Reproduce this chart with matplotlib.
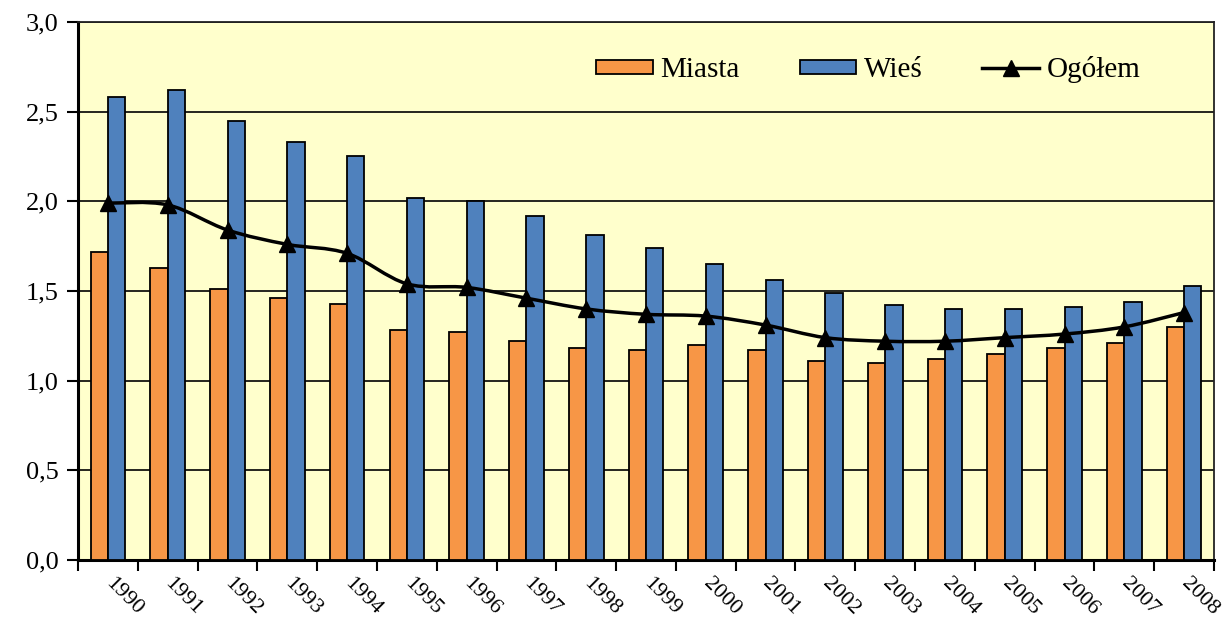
import numpy as np
import matplotlib.pyplot as plt
from matplotlib.path import Path
from matplotlib.patches import PathPatch
from matplotlib.lines import Line2D

plt.rcParams['font.family'] = ['Liberation Serif', 'DejaVu Serif']

# data
years = ['1990', '1991', '1992', '1993', '1994', '1995', '1996', '1997', '1998', '1999',
         '2000', '2001', '2002', '2003', '2004', '2005', '2006', '2007', '2008']
miasta = [1.72, 1.63, 1.51, 1.46, 1.43, 1.28, 1.27, 1.22, 1.18, 1.17,
          1.20, 1.17, 1.11, 1.10, 1.12, 1.15, 1.18, 1.21, 1.30]
wies = [2.58, 2.62, 2.45, 2.33, 2.25, 2.02, 2.00, 1.92, 1.81, 1.74,
        1.65, 1.56, 1.49, 1.42, 1.40, 1.40, 1.41, 1.44, 1.53]
ogolem = [1.99, 1.98, 1.84, 1.76, 1.71, 1.54, 1.52, 1.46, 1.40, 1.37,
          1.36, 1.31, 1.24, 1.22, 1.22, 1.24, 1.26, 1.30, 1.38]
yticks = [0.0, 0.5, 1.0, 1.5, 2.0, 2.5, 3.0]

fig = plt.figure(figsize=(12.31, 6.21), dpi=100)
ax = fig.add_axes([0.0634, 0.0982, 0.9228, 0.8664])
ax.set_facecolor('#FFFFCC')

x = np.arange(len(years))
w = 0.29
ax.bar(x - w / 2, miasta, w, color='#F79646', edgecolor='black', linewidth=1.3, zorder=3, label='Miasta')
ax.bar(x + w / 2, wies, w, color='#4F81BD', edgecolor='black', linewidth=1.3, zorder=3, label='Wieś')

# smoothed line like excel (bezier through the points)
pts = np.column_stack([x, ogolem]).astype(float)
verts = [pts[0]]
codes = [Path.MOVETO]
n = len(pts)
for i in range(n - 1):
    p0 = pts[i - 1] if i > 0 else pts[i]
    p1 = pts[i]
    p2 = pts[i + 1]
    p3 = pts[i + 2] if i + 2 < n else pts[i + 1]
    verts += [p1 + (p2 - p0) / 6, p2 - (p3 - p1) / 6, p2]
    codes += [Path.CURVE4] * 3
ax.add_patch(PathPatch(Path(verts, codes), fill=False, edgecolor='black', linewidth=2.5, zorder=4))
ax.plot(x, ogolem, linestyle='none', marker='^', color='black', markersize=11, zorder=5)

ax.set_xlim(-0.5, len(years) - 0.5)
ax.set_ylim(0, 3.0)
ax.set_yticks(yticks)
ax.set_yticklabels([f'{t:.1f}'.replace('.', ',') for t in yticks], fontsize=19)
ax.yaxis.grid(True, color='black', linewidth=1.2, zorder=0)
ax.set_axisbelow(True)

ax.set_xticks(np.arange(len(years) + 1) - 0.5)
ax.set_xticklabels([])
ax.set_xticks(x, minor=True)
ax.set_xticklabels(years, minor=True, fontsize=16, rotation=-45, rotation_mode='anchor', ha='left', va='center')
ax.tick_params(axis='x', which='major', direction='out', length=8, width=1.5)
ax.tick_params(axis='x', which='minor', length=0, pad=15)
ax.tick_params(axis='y', direction='out', length=8, width=1.5, pad=6)

for s in ['left', 'bottom']:
    ax.spines[s].set_linewidth(2.2)
for s in ['top', 'right']:
    ax.spines[s].set_linewidth(1.3)
    ax.spines[s].set_color('#222222')

handles = [plt.Rectangle((0, 0), 1, 1, facecolor='#F79646', edgecolor='black', linewidth=1.3),
           plt.Rectangle((0, 0), 1, 1, facecolor='#4F81BD', edgecolor='black', linewidth=1.3),
           Line2D([], [], color='black', linewidth=2.5, marker='^', markersize=11)]
ax.legend(handles, ['Miasta', 'Wieś', 'Ogółem'], loc='upper left', bbox_to_anchor=(0.433, 0.985),
          ncol=3, frameon=False, fontsize=21, handlelength=1.95, handleheight=0.4,
          columnspacing=2.05, handletextpad=0.25)

fig.savefig('out.png', dpi=100)
